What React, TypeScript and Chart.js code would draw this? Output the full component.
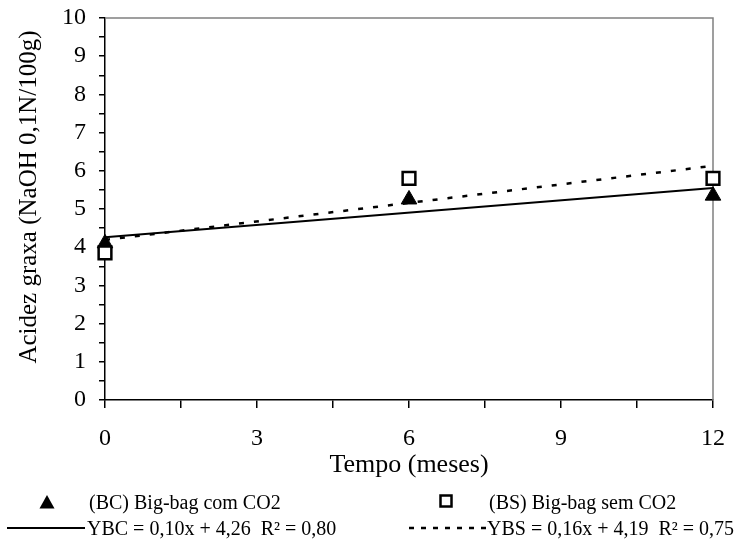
import React, { useEffect, useRef } from 'react';
import { Chart, registerables } from 'chart.js';

Chart.register(...registerables);

// Data
const months = [0, 6, 12];
const bcValues = [4.1, 5.25, 5.35]; // (BC) Big-bag com CO2
const bsValues = [3.85, 5.8, 5.8]; // (BS) Big-bag sem CO2
const trendX = [0, 12];
const bcTrend = [4.26, 5.55]; // YBC = 0,10x + 4,26
const bsTrend = [4.19, 6.13]; // YBS = 0,16x + 4,19
const xLabelStep = 3;
const xTickStep = 1.5;
const yTickStep = 0.5;
const yMin = 0;
const yMax = 10;
const xMin = 0;
const xMax = 12;

const xTitle = 'Tempo (meses)';
const yTitle = 'Acidez graxa (NaOH 0,1N/100g)';
const legendBC = '(BC) Big-bag com CO2';
const legendBS = '(BS) Big-bag sem CO2';
const eqBC = 'YBC = 0,10x + 4,26  R² = 0,80';
const eqBS = 'YBS = 0,16x + 4,19  R² = 0,75';

const FONT = "'Liberation Serif', 'Times New Roman', serif";

const framePlugin = {
  id: 'frame',
  beforeDatasetsDraw(chart: any) {
    const { ctx, chartArea } = chart;
    const { left, top, right, bottom } = chartArea;
    ctx.save();
    ctx.strokeStyle = '#808080';
    ctx.lineWidth = 1.5;
    ctx.beginPath();
    ctx.moveTo(left, top);
    ctx.lineTo(right, top);
    ctx.lineTo(right, bottom);
    ctx.stroke();
    ctx.restore();
  },
};

export default function App() {
  const ref = useRef<HTMLCanvasElement | null>(null);

  useEffect(() => {
    if (!ref.current) return;
    const toPts = (xs: number[], ys: number[]) => xs.map((x, i) => ({ x, y: ys[i] }));
    const chart = new Chart(ref.current, {
      type: 'scatter',
      data: {
        datasets: [
          {
            label: 'YBC',
            data: toPts(trendX, bcTrend),
            showLine: true,
            borderColor: '#000',
            borderWidth: 2,
            pointRadius: 0,
            clip: false,
          } as any,
          {
            label: 'YBS',
            data: toPts(trendX, bsTrend),
            showLine: true,
            borderColor: '#000',
            borderWidth: 2.5,
            borderDash: [5, 10],
            pointRadius: 0,
            clip: false,
          } as any,
          {
            label: legendBS,
            data: toPts(months, bsValues),
            pointStyle: 'rect',
            pointRadius: 9,
            borderColor: '#000',
            borderWidth: 2.5,
            backgroundColor: '#fff',
            clip: false,
          } as any,
          {
            label: legendBC,
            data: toPts(months, bcValues),
            pointStyle: 'triangle',
            pointRadius: 9,
            borderColor: '#000',
            borderWidth: 1,
            backgroundColor: '#000',
            clip: false,
          } as any,
        ],
      },
      options: {
        animation: false,
        responsive: false,
        events: [],
        layout: { padding: { top: 18, right: 34, left: 0, bottom: 61 } },
        plugins: { legend: { display: false }, tooltip: { enabled: false } },
        scales: {
          x: {
            type: 'linear',
            min: xMin,
            max: xMax,
            afterFit: (s: any) => {
              s.height = 81;
              s.paddingLeft = 0;
              s.paddingRight = 0;
            },
            afterBuildTicks: (s: any) => {
              const t = [];
              for (let v = xMin; v <= xMax + 1e-9; v += xTickStep) t.push({ value: v });
              s.ticks = t;
            },
            ticks: {
              autoSkip: false,
              maxRotation: 0,
              color: '#000',
              padding: 16,
              font: { family: FONT, size: 24 },
              callback: (v: any) => (Math.abs(v % xLabelStep) < 1e-9 ? String(v) : ''),
            },
            grid: { drawOnChartArea: false, drawTicks: true, tickLength: 8, color: '#000', lineWidth: 1.5 },
            border: { color: '#000', width: 1.5 },
            title: { display: true, text: xTitle, color: '#000', font: { family: FONT, size: 26 }, padding: { top: 0, bottom: 0 } },
          },
          y: {
            type: 'linear',
            min: yMin,
            max: yMax,
            afterFit: (s: any) => {
              s.width = 105;
              s.paddingTop = 0;
              s.paddingBottom = 0;
            },
            afterBuildTicks: (s: any) => {
              const t = [];
              for (let v = yMin; v <= yMax + 1e-9; v += yTickStep) t.push({ value: v });
              s.ticks = t;
            },
            ticks: {
              autoSkip: false,
              color: '#000',
              padding: 13,
              font: { family: FONT, size: 24 },
              callback: (v: any) => (Math.abs(v % 1) < 1e-9 ? String(v) : ''),
            },
            grid: { drawOnChartArea: false, drawTicks: true, tickLength: 6, color: '#000', lineWidth: 1.5 },
            border: { color: '#000', width: 1.5 },
            title: { display: false },
          },
        },
      } as any,
      plugins: [framePlugin],
    });
    return () => chart.destroy();
  }, []);

  const txt: React.CSSProperties = {
    position: 'absolute',
    fontFamily: FONT,
    fontSize: 20,
    lineHeight: '22px',
    color: '#000',
    whiteSpace: 'pre',
  };

  return (
    <div style={{ position: 'absolute', left: 0, top: 0, width: 747, height: 542, background: '#fff', overflow: 'hidden' }}>
      <canvas ref={ref} width={747} height={542} style={{ width: 747, height: 542, display: 'block' }} />
      <div
        style={{
          position: 'absolute',
          left: 28,
          top: 197,
          fontFamily: FONT,
          fontSize: 25,
          lineHeight: '30px',
          color: '#000',
          whiteSpace: 'nowrap',
          transform: 'translate(-50%, -50%) rotate(-90deg)',
        }}
      >
        {yTitle}
      </div>
      <svg style={{ position: 'absolute', left: 39, top: 494 }} width={16} height={15}>
        <polygon points="8,1 15.5,14.5 0.5,14.5" fill="#000" />
      </svg>
      <div style={{ ...txt, left: 89, top: 491 }}>{legendBC}</div>
      <svg style={{ position: 'absolute', left: 439, top: 494 }} width={14} height={14}>
        <rect x={1.5} y={1.5} width={11} height={11} fill="#fff" stroke="#000" strokeWidth={2.5} />
      </svg>
      <div style={{ ...txt, left: 489, top: 491 }}>{legendBS}</div>
      <svg style={{ position: 'absolute', left: 7, top: 524 }} width={78} height={8}>
        <line x1={0} y1={4} x2={78} y2={4} stroke="#000" strokeWidth={2} />
      </svg>
      <div style={{ ...txt, left: 87, top: 517 }}>{eqBC}</div>
      <svg style={{ position: 'absolute', left: 408, top: 524 }} width={78} height={8}>
        <line x1={1} y1={4} x2={78} y2={4} stroke="#000" strokeWidth={2.5} strokeDasharray="5,7" />
      </svg>
      <div style={{ ...txt, left: 487, top: 517 }}>{eqBS}</div>
    </div>
  );
}
